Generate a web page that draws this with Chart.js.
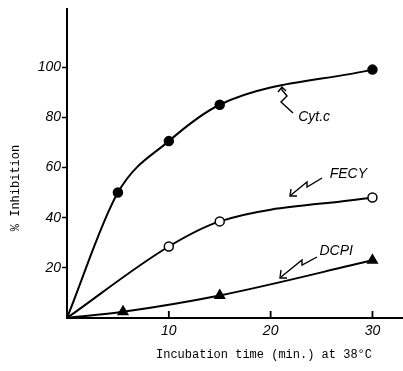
<!DOCTYPE html>
<html>
<head>
<meta charset="utf-8">
<script src="https://cdn.jsdelivr.net/npm/chart.js@4"></script>
<style>
  html, body { margin: 0; padding: 0; background: #fff; }
  #wrap { width: 403px; height: 371px; }
</style>
</head>
<body>
<div id="wrap"><canvas id="chart"></canvas></div>
<script>
// values (time in min, % inhibition)
const cytTime = [0, 5, 10, 15, 30];
const cytInhib = [0, 50, 70.5, 85, 99];
const fecyTime = [0, 10, 15, 30];
const fecyInhib = [0, 28.5, 38.5, 48];
const dcpiTime = [0, 5.5, 15, 30];
const dcpiInhib = [0, 2.5, 9, 23];
const xTicks = [10, 20, 30];
const yTicks = [20, 40, 60, 80, 100];

const toPts = (xs, ys) => xs.map((x, i) => ({ x: x, y: ys[i] }));
// no marker at the origin
const radii = (xs, r) => xs.map(x => (x === 0 ? 0 : r));

const handFont = { family: "'Liberation Sans', sans-serif", style: "italic", size: 14 };
const monoFont = "12px 'Liberation Mono', monospace";

// labels, arrows, axis titles and inner x ticks
const extras = {
  id: "extras",
  afterDraw(chart) {
    const ctx = chart.ctx;
    const xs = chart.scales.x, ys = chart.scales.y;
    ctx.save();
    ctx.strokeStyle = "#000";
    ctx.fillStyle = "#000";
    ctx.lineWidth = 1.8;

    // x ticks pointing up into the plot
    xTicks.forEach(v => {
      const px = xs.getPixelForValue(v);
      ctx.beginPath();
      ctx.moveTo(px, ys.bottom);
      ctx.lineTo(px, ys.bottom - 7);
      ctx.stroke();
    });

    // axis titles
    ctx.font = monoFont;
    ctx.textAlign = "center";
    ctx.textBaseline = "middle";
    ctx.fillText("Incubation time (min.) at 38\u00b0C", 264, 355);
    ctx.save();
    ctx.translate(16, 188);
    ctx.rotate(-Math.PI / 2);
    ctx.fillText("% Inhibition", 0, 0);
    ctx.restore();

    // curve labels
    ctx.font = "italic 14px 'Liberation Sans', sans-serif";
    ctx.textAlign = "left";
    const lab = (t, x, y) => ctx.fillText(t, xs.getPixelForValue(x), ys.getPixelForValue(y));
    lab("Cyt.c", 22.7, 80);
    lab("FECY", 25.8, 57.5);
    lab("DCPI", 24.8, 26.5);

    ctx.lineWidth = 1.4;
    const path = pts => {
      ctx.beginPath();
      pts.forEach((p, i) => i ? ctx.lineTo(p[0], p[1]) : ctx.moveTo(p[0], p[1]));
      ctx.stroke();
    };
    // Cyt.c arrow (squiggle pointing up to curve)
    path([[293, 113], [281, 102], [287, 96], [282, 90], [282, 87]]);
    path([[278, 92], [282, 87], [286, 91]]);
    // FECY arrow
    path([[322, 178], [307, 187], [307, 182], [291, 195]]);
    path([[291, 189], [290, 196], [297, 196]]);
    // DCPI arrow
    path([[317, 257], [302, 265], [302, 260], [281, 277]]);
    path([[281, 270], [280, 278], [287, 278]]);
    ctx.restore();
  }
};

const line = (label, xs, ys, style, filled, r) => ({
  label: label,
  data: toPts(xs, ys),
  borderColor: "#000",
  borderWidth: 2,
  backgroundColor: filled ? "#000" : "#fff",
  pointBorderColor: "#000",
  pointBorderWidth: 1.5,
  pointStyle: style,
  pointRadius: radii(xs, r),
  cubicInterpolationMode: "monotone",
  fill: false
});

new Chart(document.getElementById("chart"), {
  type: "line",
  data: {
    datasets: [
      line("Cyt.c", cytTime, cytInhib, "circle", true, 4.5),
      line("FECY", fecyTime, fecyInhib, "circle", false, 4.5),
      line("DCPI", dcpiTime, dcpiInhib, "triangle", true, 5.5)
    ]
  },
  options: {
    responsive: true,
    maintainAspectRatio: false,
    animation: false,
    layout: { autoPadding: false, padding: { top: 6, right: 0, left: 0, bottom: 0 } },
    plugins: { legend: { display: false }, tooltip: { enabled: false } },
    scales: {
      x: {
        type: "linear",
        min: 0,
        max: 33,
        afterBuildTicks: s => { s.ticks = xTicks.map(v => ({ value: v })); },
        afterFit: s => { s.height = 53; },
        ticks: { color: "#000", font: handFont, padding: 5, maxRotation: 0 },
        grid: { display: false, drawTicks: false },
        border: { color: "#000", width: 2 }
      },
      y: {
        min: 0,
        max: 123,
        afterBuildTicks: s => { s.ticks = yTicks.map(v => ({ value: v })); },
        afterFit: s => { s.width = 67; },
        ticks: { color: "#000", font: handFont, padding: 1 },
        grid: { drawOnChartArea: false, tickLength: 5, color: "#000", tickWidth: 1.5 },
        border: { color: "#000", width: 2 }
      }
    }
  },
  plugins: [extras]
});
</script>
</body>
</html>
